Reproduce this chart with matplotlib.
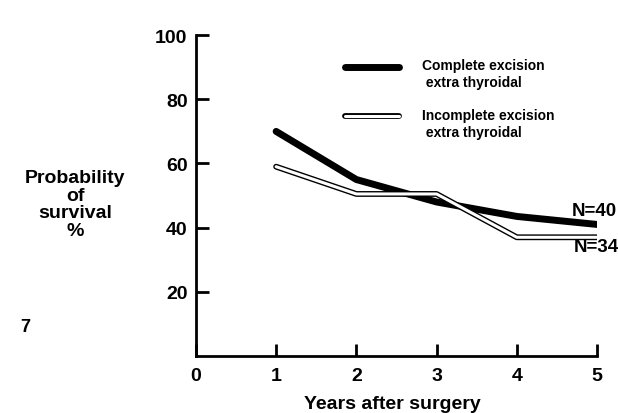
import matplotlib
matplotlib.use("Agg")
import matplotlib.pyplot as plt
import matplotlib.patheffects as pe
from matplotlib.lines import Line2D
from matplotlib.legend_handler import HandlerLine2D

# ---- DATA ----
YEARS = [1, 2, 3, 4, 5]
COMPLETE = [70, 55, 48, 43.5, 41]
INCOMPLETE = [59, 50.5, 50.5, 37, 37]
X_TICKS = [0, 1, 2, 3, 4, 5]
Y_TICKS = [20, 40, 60, 80, 100]
LABEL_COMPLETE = "Complete excision\n extra thyroidal"
LABEL_INCOMPLETE = "Incomplete excision\n extra thyroidal"
N_COMPLETE = "N=40"
N_INCOMPLETE = "N=34"


class TopLineHandler(HandlerLine2D):
    # put the legend line next to the first text line, not the middle
    def create_artists(self, legend, orig_handle, xdescent, ydescent,
                       width, height, fontsize, trans):
        return super().create_artists(legend, orig_handle, xdescent,
                                      ydescent - 1.1 * fontsize, width, height,
                                      fontsize, trans)


plt.rcParams["font.family"] = ["Liberation Sans", "DejaVu Sans"]
plt.rcParams["font.weight"] = "bold"

fig = plt.figure(figsize=(6.18, 4.14), dpi=100)
ax = fig.add_axes([0.317, 0.1377, 0.649, 0.775])

ax.plot(YEARS, COMPLETE, color="black", lw=5, solid_capstyle="round",
        solid_joinstyle="round", label=LABEL_COMPLETE, zorder=3)
ax.plot(YEARS, INCOMPLETE, color="white", lw=2.2, solid_capstyle="round",
        solid_joinstyle="round", label=LABEL_INCOMPLETE, zorder=4,
        path_effects=[pe.Stroke(linewidth=4.2, foreground="black"), pe.Normal()])

ax.set_xlim(0, 5)
ax.set_ylim(0, 100)
ax.set_xticks(X_TICKS)
ax.set_yticks(Y_TICKS)
ax.tick_params(direction="in", length=9, width=2, labelsize=14)
ax.tick_params(axis="x", pad=8)
ax.tick_params(axis="y", pad=6)
for lab in ax.get_xticklabels() + ax.get_yticklabels():
    lab.set_fontweight("bold")

for s in ["top", "right"]:
    ax.spines[s].set_visible(False)
for s in ["left", "bottom"]:
    ax.spines[s].set_linewidth(2)

# N labels near line ends
ax.annotate(N_COMPLETE, (YEARS[-1], COMPLETE[-1]), xytext=(-18, 10),
            textcoords="offset points", fontsize=13.5, fontweight="bold",
            ha="left", va="center", annotation_clip=False)
ax.annotate(N_INCOMPLETE, (YEARS[-1], INCOMPLETE[-1]), xytext=(-17, -7),
            textcoords="offset points", fontsize=13.5, fontweight="bold",
            ha="left", va="center", annotation_clip=False)

leg = ax.legend(loc="upper left", bbox_to_anchor=(0.372, 0.93), frameon=False,
                handlelength=3.9, handletextpad=1.65, borderpad=0,
                borderaxespad=0, labelspacing=1.3,
                prop={"weight": "bold", "size": 10},
                handler_map={Line2D: TopLineHandler()})
for t in leg.get_texts():
    t.set_linespacing(1.35)

ax.set_xlabel("Years after surgery", fontsize=14, fontweight="bold")
ax.xaxis.set_label_coords(0.49, -0.122)
fig.text(0.122, 0.505, "Probability\nof\nsurvival\n%", ha="center", va="center",
         fontsize=14, fontweight="bold", linespacing=1.05)
fig.text(0.033, 0.21, "7", ha="left", va="center", fontsize=13, fontweight="bold")

fig.savefig("out.png", dpi=100)
